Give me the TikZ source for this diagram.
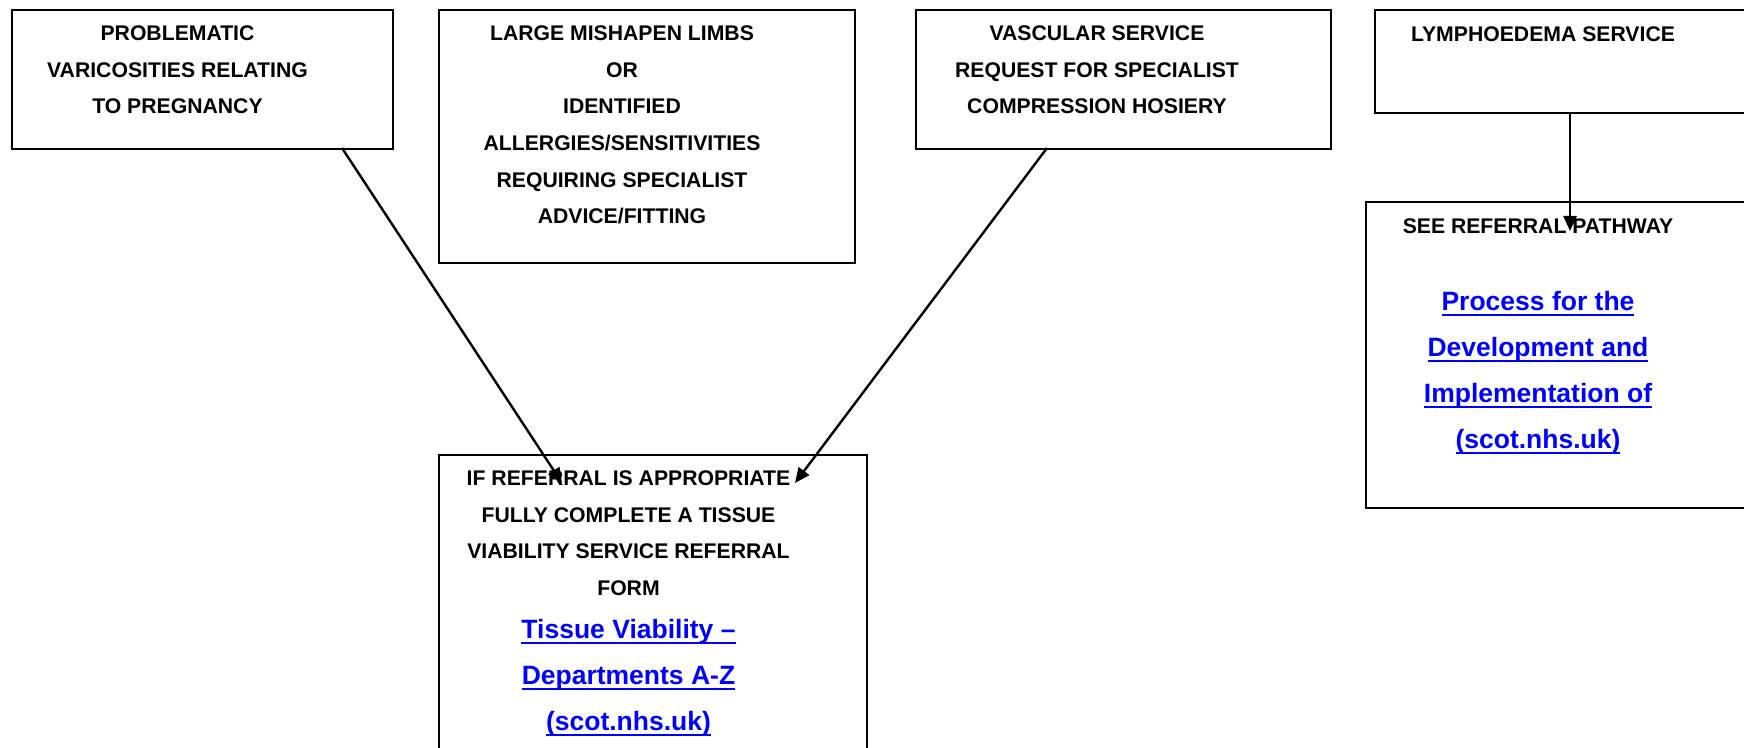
\documentclass[tikz,border=0pt]{standalone}
\usepackage{fontspec}
\setmainfont{Liberation Sans}
\usetikzlibrary{arrows.meta}
\definecolor{linkblue}{RGB}{0,0,255}
\newsavebox{\lkbox}
\newcommand{\lk}[1]{\sbox{\lkbox}{#1}\rlap{\vrule height -1.7pt depth 2.8pt width \wd\lkbox}\usebox{\lkbox}}
\newcommand{\fst}{\rule{0pt}{11pt}}
\tikzset{
  box/.style={draw=black, line width=1.2pt, rectangle, inner sep=0pt},
  txt/.style={font=\bfseries\fontsize{10.6}{18.35}\selectfont, align=center, inner sep=0pt, anchor=north},
  lnk/.style={font=\bfseries\fontsize{13.25}{23}\selectfont, align=center, inner sep=0pt, anchor=north, text=linkblue},
  arr/.style={line width=1.2pt, -{Triangle[length=7.5pt,width=6.5pt]}}
}
\begin{document}
\begin{tikzpicture}[x=0.5pt,y=-0.5pt]
\clip (0,0) rectangle (1744,748);
\fill[white] (0,0) rectangle (1744,748);
% boxes
\node[box, anchor=north west, minimum width=381*0.5pt, minimum height=139*0.5pt] (b1) at (11,9) {};
\node[box, anchor=north west, minimum width=416*0.5pt, minimum height=253*0.5pt] (b2) at (438,9) {};
\node[box, anchor=north west, minimum width=415*0.5pt, minimum height=139*0.5pt] (b3) at (915,9) {};
\node[box, anchor=north west, minimum width=400*0.5pt, minimum height=103*0.5pt] (b4) at (1374,9) {};
\node[box, anchor=north west, minimum width=400*0.5pt, minimum height=306*0.5pt] (b5) at (1365,201) {};
\node[box, anchor=north west, minimum width=428*0.5pt, minimum height=330*0.5pt] (b6) at (438,454) {};
% texts (north = first baseline - 22px)
\node[txt] (t1) at (177.5,18) {\fst PROBLEMATIC\\VARICOSITIES RELATING\\TO PREGNANCY};
\node[txt] (t2) at (622,18) {\fst LARGE MISHAPEN LIMBS\\OR\\IDENTIFIED\\ALLERGIES/SENSITIVITIES\\REQUIRING SPECIALIST\\ADVICE/FITTING};
\node[txt] (t3) at (1097,18) {\fst VASCULAR SERVICE\\REQUEST FOR SPECIALIST\\COMPRESSION HOSIERY};
\node[txt] (t4) at (1543,19) {\fst LYMPHOEDEMA SERVICE};
\node[txt] (t5) at (1538,211) {\fst SEE REFERRAL PATHWAY};
\node[lnk] (l5) at (1538,288) {\fst\lk{Process for the}\\\lk{Development and}\\\lk{Implementation of}\\\lk{(scot.nhs.uk)}};
\node[txt] (t6) at (628.5,463) {\fst IF REFERRAL IS APPROPRIATE\\FULLY COMPLETE A TISSUE\\VIABILITY SERVICE REFERRAL\\FORM};
\node[lnk] (l6) at (628.5,616) {\fst\lk{Tissue Viability --}\\\lk{Departments A-Z}\\\lk{(scot.nhs.uk)}};
% connectors
\coordinate (a1s) at (342,148);
\coordinate (a1e) at (562,483);
\coordinate (a2s) at (1047,148);
\coordinate (a2e) at (795,483);
\coordinate (a3s) at (1570,112);
\coordinate (a3e) at (1570,231);
\draw[arr] (a1s) -- (a1e);
\draw[arr] (a2s) -- (a2e);
\draw[arr] (a3s) -- (a3e);
\end{tikzpicture}
\end{document}
